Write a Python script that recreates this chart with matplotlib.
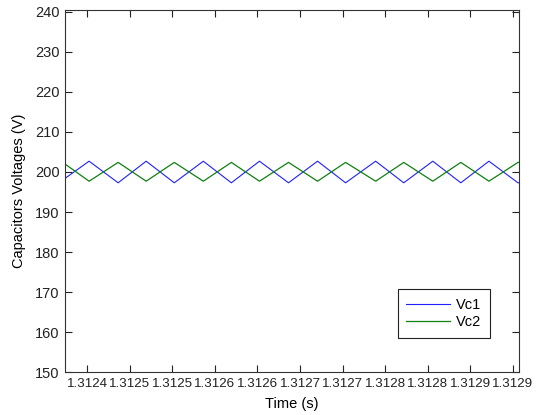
import numpy as np
import matplotlib.pyplot as plt
from matplotlib.ticker import FixedLocator

plt.rcParams['font.family'] = ['Liberation Sans', 'DejaVu Sans']

# Vertices of the triangle ripple
t_vc1 = [1.3123741, 1.3124024, 1.3124365, 1.3124694, 1.3125024, 1.3125365,
         1.3125694, 1.3126024, 1.3126365, 1.3126706, 1.3127035, 1.3127388,
         1.3127718, 1.3128059, 1.3128388, 1.3128718, 1.3129059, 1.3129071]
vc1 = [198.4, 202.7, 197.3, 202.7, 197.3, 202.7, 197.3, 202.7, 197.3,
       202.7, 197.3, 202.7, 197.3, 202.7, 197.3, 202.7, 197.3, 197.3]

t_vc2 = [1.3123741, 1.3124024, 1.3124365, 1.3124694, 1.3125024, 1.3125365,
         1.3125694, 1.3126024, 1.3126365, 1.3126706, 1.3127035, 1.3127388,
         1.3127718, 1.3128059, 1.3128388, 1.3128718, 1.3129059, 1.3129071]
vc2 = [202.0, 197.7, 202.4, 197.7, 202.4, 197.7, 202.4, 197.7, 202.4,
       197.7, 202.4, 197.7, 202.4, 197.7, 202.4, 197.7, 202.4, 202.4]

xticks = [1.31240, 1.31245, 1.31250, 1.31255, 1.31260, 1.31265,
          1.31270, 1.31275, 1.31280, 1.31285, 1.31290]
xticklabels = ['1.3124', '1.3125', '1.3125', '1.3126', '1.3126', '1.3127',
               '1.3127', '1.3128', '1.3128', '1.3129', '1.3129']
yticks = [150, 160, 170, 180, 190, 200, 210, 220, 230, 240]

fig = plt.figure(figsize=(5.36, 4.15), dpi=100)
ax = fig.add_axes([65/536, 1 - 372/415, (519 - 65)/536, (372 - 10)/415])

ax.plot(t_vc1, vc1, color='#2020ff', lw=0.8, label='Vc1')
ax.plot(t_vc2, vc2, color='#108010', lw=0.9, label='Vc2')

ax.set_xlim(1.3123741, 1.3129071)
ax.set_ylim(150, 240.5)
ax.xaxis.set_major_locator(FixedLocator(xticks))
ax.set_xticklabels(xticklabels)
ax.set_yticks(yticks)

ax.tick_params(direction='in', length=5, width=0.8, top=True, right=True,
               colors='#222222', pad=4)
ax.tick_params(axis='x', labelsize=9.6)
ax.tick_params(axis='y', labelsize=10.5)
for s in ax.spines.values():
    s.set_linewidth(0.8)
    s.set_color('#333333')

ax.set_xlabel('Time (s)', fontsize=10.5, labelpad=5)
ax.set_ylabel('Capacitors Voltages (V)', fontsize=10.5, labelpad=6)

leg = ax.legend(loc='lower right', bbox_to_anchor=(0.952, 0.075), fontsize=10.5,
                fancybox=False, framealpha=1, edgecolor='#222222',
                handlelength=3.0, borderpad=0.6, labelspacing=0.2,
                handletextpad=0.4)
leg.get_frame().set_linewidth(0.8)

fig.savefig('out.png', dpi=100)
